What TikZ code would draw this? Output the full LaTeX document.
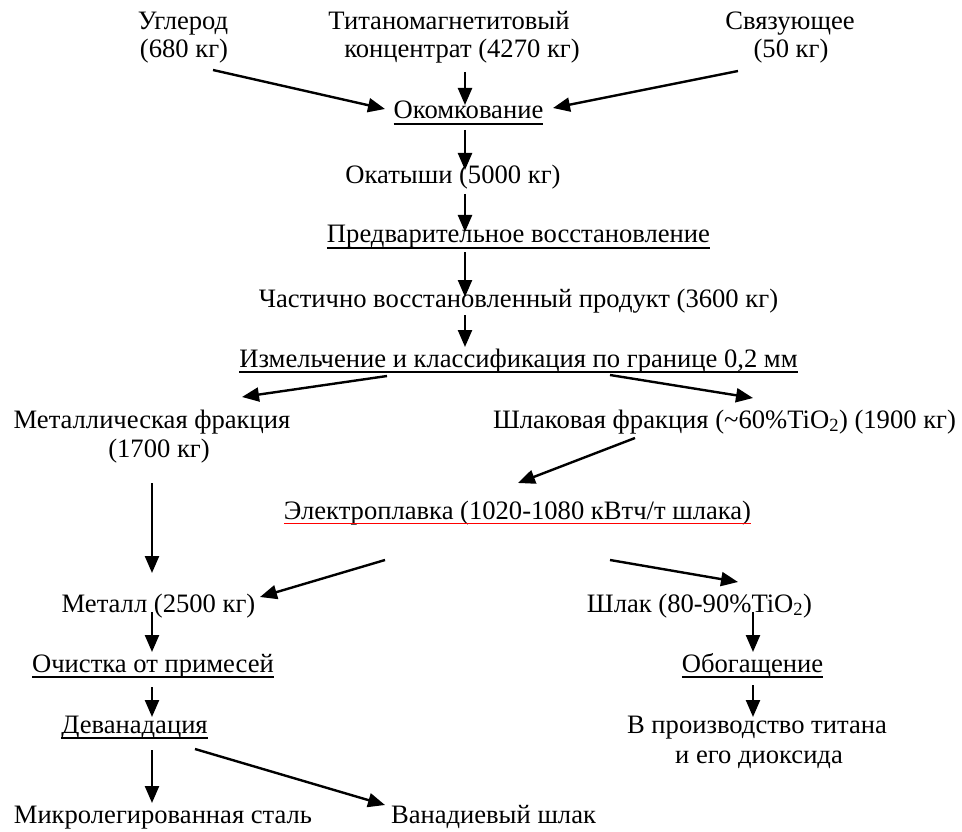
\documentclass[tikz,border=0pt]{standalone}
\usepackage{fontspec}
\setmainfont{Liberation Serif}
\usetikzlibrary{arrows.meta}
\begin{document}
\begin{tikzpicture}[x=1pt,y=-1pt,
  txt/.style={anchor=base,inner sep=0pt,outer sep=0pt,font=\fontsize{26.6}{30}\selectfont},
  arr/.style={line width=2.4pt,-{Triangle[length=17pt,width=14pt]}},
  ul/.style={line width=1.8pt},
  ulred/.style={line width=1.6pt,red}]
\useasboundingbox (0,0) rectangle (962,832);
% nodes
\node[txt] (ugl1) at (183,30) {Углерод};
\node[txt] (ugl2) at (184,58) {(680 кг)};
\node[txt] (tit1) at (449,30) {Титаномагнетитовый};
\node[txt] (tit2) at (462,58) {концентрат (4270 кг)};
\node[txt] (svz1) at (790,30) {Связующее};
\node[txt] (svz2) at (791,58) {(50 кг)};
\node[txt] (okom) at (468.5,119) {Окомкование};
\node[txt] (okat) at (453,184) {Окатыши (5000 кг)};
\node[txt] (pred) at (518.5,243) {Предварительное восстановление};
\node[txt] (chast) at (518.5,307) {Частично восстановленный продукт (3600 кг)};
\node[txt] (izm) at (518.5,367) {Измельчение и классификация по границе 0,2 мм};
\node[txt] (met1) at (152,428) {Металлическая фракция};
\node[txt] (met2) at (159,457) {(1700 кг)};
\node[txt] (shl) at (724.5,428) {Шлаковая фракция (\textasciitilde60\%TiO\textsubscript{2}) (1900 кг)};
\node[txt] (el) at (517.5,519) {Электроплавка (1020-1080 кВтч/т шлака)};
\node[txt] (metall) at (158.5,612) {Металл (2500 кг)};
\node[txt] (shlak) at (699.5,612) {Шлак (80-90\%TiO\textsubscript{2})};
\node[txt] (och) at (153,672) {Очистка от примесей};
\node[txt] (obog) at (752.5,672) {Обогащение};
\node[txt] (dev) at (134.5,733) {Деванадация};
\node[txt] (vpr1) at (757,733) {В производство титана};
\node[txt] (vpr2) at (759,763) {и его диоксида};
\node[txt] (mikro) at (163,823) {Микролегированная сталь};
\node[txt] (van) at (493.5,823) {Ванадиевый шлак};
% underlines
\foreach \n in {okom,pred,izm,och,obog,dev}
  \draw[ul] ([yshift=-5pt]\n.base west) -- ([yshift=-5pt]\n.base east);
\draw[ulred] ([yshift=-4.5pt]el.base west) -- ([yshift=-4.5pt]el.base east);
% arrows
\draw[arr] ([shift={(29,12)}]ugl2.base) -- ([shift={(-83.5,-10)}]okom.base);
\draw[arr] ([shift={(3,14)}]tit2.base) -- ([shift={(-3.5,-14)}]okom.base);
\draw[arr] ([shift={(-53,13)}]svz2.base) -- ([shift={(84.5,-11)}]okom.base);
\draw[arr] ([shift={(-3.5,11)}]okom.base) -- ([shift={(12,-14)}]okat.base);
\draw[arr] ([shift={(12,10)}]okat.base) -- ([shift={(-53.5,-11)}]pred.base);
\draw[arr] ([shift={(-53.5,9)}]pred.base) -- ([shift={(-53.5,-10)}]chast.base);
\draw[arr] ([shift={(-53.5,8)}]chast.base) -- ([shift={(-53.5,-20)}]izm.base);
\draw[arr] ([shift={(-131.5,9)}]izm.base) -- ([shift={(90,-31)}]met1.base);
\draw[arr] ([shift={(91.5,8)}]izm.base) -- ([shift={(28.5,-30)}]shl.base);
\draw[arr] ([shift={(-89.5,10)}]shl.base) -- ([shift={(0.5,-36)}]el.base);
\draw[arr] ([shift={(-7,26)}]met2.base) -- ([shift={(-6.5,-39)}]metall.base);
\draw[arr] ([shift={(-132.5,41)}]el.base) -- ([shift={(101.5,-15)}]metall.base);
\draw[arr] ([shift={(92.5,41)}]el.base) -- ([shift={(38.5,-30)}]shlak.base);
\draw[arr] ([shift={(-6.5,0)}]metall.base) -- ([shift={(-1,-20)}]och.base);
\draw[arr] ([shift={(-1,15)}]och.base) -- ([shift={(17.5,-16)}]dev.base);
\draw[arr] ([shift={(17.5,17)}]dev.base) -- ([shift={(-11,-20)}]mikro.base);
\draw[arr] ([shift={(60.5,16)}]dev.base) -- ([shift={(-108.5,-18)}]van.base);
\draw[arr] ([shift={(53.5,0)}]shlak.base) -- ([shift={(0.5,-20)}]obog.base);
\draw[arr] ([shift={(0.5,13)}]obog.base) -- ([shift={(-4,-16)}]vpr1.base);
\end{tikzpicture}
\end{document}
